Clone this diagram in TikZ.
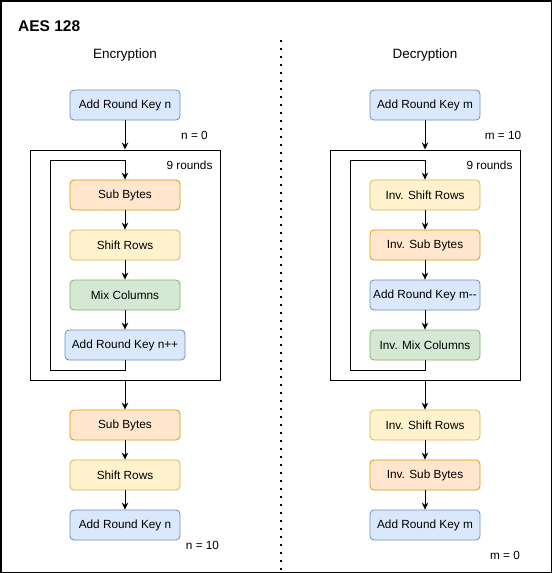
\documentclass[tikz,border=0pt]{standalone}
\usepackage{fontspec}
\setmainfont{Liberation Sans}
\usetikzlibrary{arrows.meta}

\definecolor{keyfill}{HTML}{DAE8FC}
\definecolor{keyline}{HTML}{6C8EBF}
\definecolor{subfill}{HTML}{FFE6CC}
\definecolor{subline}{HTML}{D79B00}
\definecolor{shiftfill}{HTML}{FFF2CC}
\definecolor{shiftline}{HTML}{D6B656}
\definecolor{mixfill}{HTML}{D5E8D4}
\definecolor{mixline}{HTML}{82B366}

\tikzset{
  blk/.style={draw, rounded corners=4pt, minimum width=110pt, minimum height=30pt,
    inner sep=0pt, line width=0.8pt, font=\fontsize{11.8pt}{13pt}\selectfont},
  keyblk/.style={blk, draw=keyline, fill=keyfill},
  subblk/.style={blk, draw=subline, fill=subfill},
  shiftblk/.style={blk, draw=shiftline, fill=shiftfill},
  mixblk/.style={blk, draw=mixline, fill=mixfill},
  loopbox/.style={draw, line width=1pt, minimum width=190pt, minimum height=230pt, inner sep=0pt},
  lbl/.style={inner sep=0pt, font=\fontsize{11.8pt}{13pt}\selectfont},
  flow/.style={-{Stealth[length=7pt,width=6.5pt]}, line width=1pt},
}

\begin{document}
\begin{tikzpicture}[x=1pt,y=-1pt]
\useasboundingbox (0,0) rectangle (552,573);
\draw[line width=1.5pt] (0.75,0.75) rectangle (551.25,572.25);

% headings
\node[anchor=west, inner sep=0pt, font=\bfseries\fontsize{15.5pt}{18pt}\selectfont] (title) at (18,26) {AES 128};
\node[lbl, font=\fontsize{13.5pt}{16pt}\selectfont] (enc) at (125,55) {Encryption};
\node[lbl, font=\fontsize{13.5pt}{16pt}\selectfont] (dec) at (425,55) {Decryption};
\draw[line width=2pt, dash pattern=on 2pt off 6pt] (280.5,40) -- (280.5,573);

% encryption
\node[keyblk] (ark0) at (125,105) {Add Round Key n};
\node[lbl] (nzero) at (194.5,135) {n = 0};
\node[loopbox] (encloop) at (125.5,265) {};
\node[lbl] (encrounds) at (189.5,165) {9 rounds};
\node[subblk] (sb1) at (125,195) {Sub Bytes};
\node[shiftblk] (sr1) at (125,245) {Shift Rows};
\node[mixblk] (mc1) at (125,295) {Mix Columns};
\node[keyblk, minimum width=120pt] (ark1) at (125,345) {Add Round Key n++};
\coordinate (enctop) at (50.5,160.5);
\coordinate (encbot) at (50.5,370);
\node[subblk] (sb2) at (125,425) {Sub Bytes};
\node[shiftblk] (sr2) at (125,475) {Shift Rows};
\node[keyblk] (ark2) at (125,525) {Add Round Key n};
\node[lbl] (nten) at (202.5,545) {n = 10};

\draw[flow] (ark0.south) -- (ark0.south |- encloop.north);
\draw[flow] (ark1.south) |- (encbot) -- (enctop) -| (sb1.north);
\draw[flow] (sb1) -- (sr1);
\draw[flow] (sr1) -- (mc1);
\draw[flow] (mc1) -- (ark1);
\draw[flow] (sb2.north |- encloop.south) -- (sb2.north);
\draw[flow] (sb2) -- (sr2);
\draw[flow] (sr2) -- (ark2);

% decryption
\node[keyblk] (arm0) at (425,105) {Add Round Key m};
\node[lbl] (mten) at (503,135) {m = 10};
\node[loopbox] (decloop) at (425.5,265) {};
\node[lbl] (decrounds) at (489.5,165) {9 rounds};
\node[shiftblk] (isr1) at (425,195) {Inv. Shift Rows};
\node[subblk] (isb1) at (425,245) {Inv. Sub Bytes};
\node[keyblk] (arm1) at (425,295) {Add Round Key m-{}-};
\node[mixblk] (imc1) at (425,345) {Inv. Mix Columns};
\coordinate (dectop) at (350.5,160.5);
\coordinate (decbot) at (350.5,370);
\node[shiftblk] (isr2) at (425,425) {Inv. Shift Rows};
\node[subblk] (isb2) at (425,475) {Inv. Sub Bytes};
\node[keyblk] (arm2) at (425,525) {Add Round Key m};
\node[lbl] (mzero) at (505,555) {m = 0};

\draw[flow] (arm0.south) -- (arm0.south |- decloop.north);
\draw[flow] (imc1.south) |- (decbot) -- (dectop) -| (isr1.north);
\draw[flow] (isr1) -- (isb1);
\draw[flow] (isb1) -- (arm1);
\draw[flow] (arm1) -- (imc1);
\draw[flow] (isr2.north |- decloop.south) -- (isr2.north);
\draw[flow] (isr2) -- (isb2);
\draw[flow] (isb2) -- (arm2);
\end{tikzpicture}
\end{document}
